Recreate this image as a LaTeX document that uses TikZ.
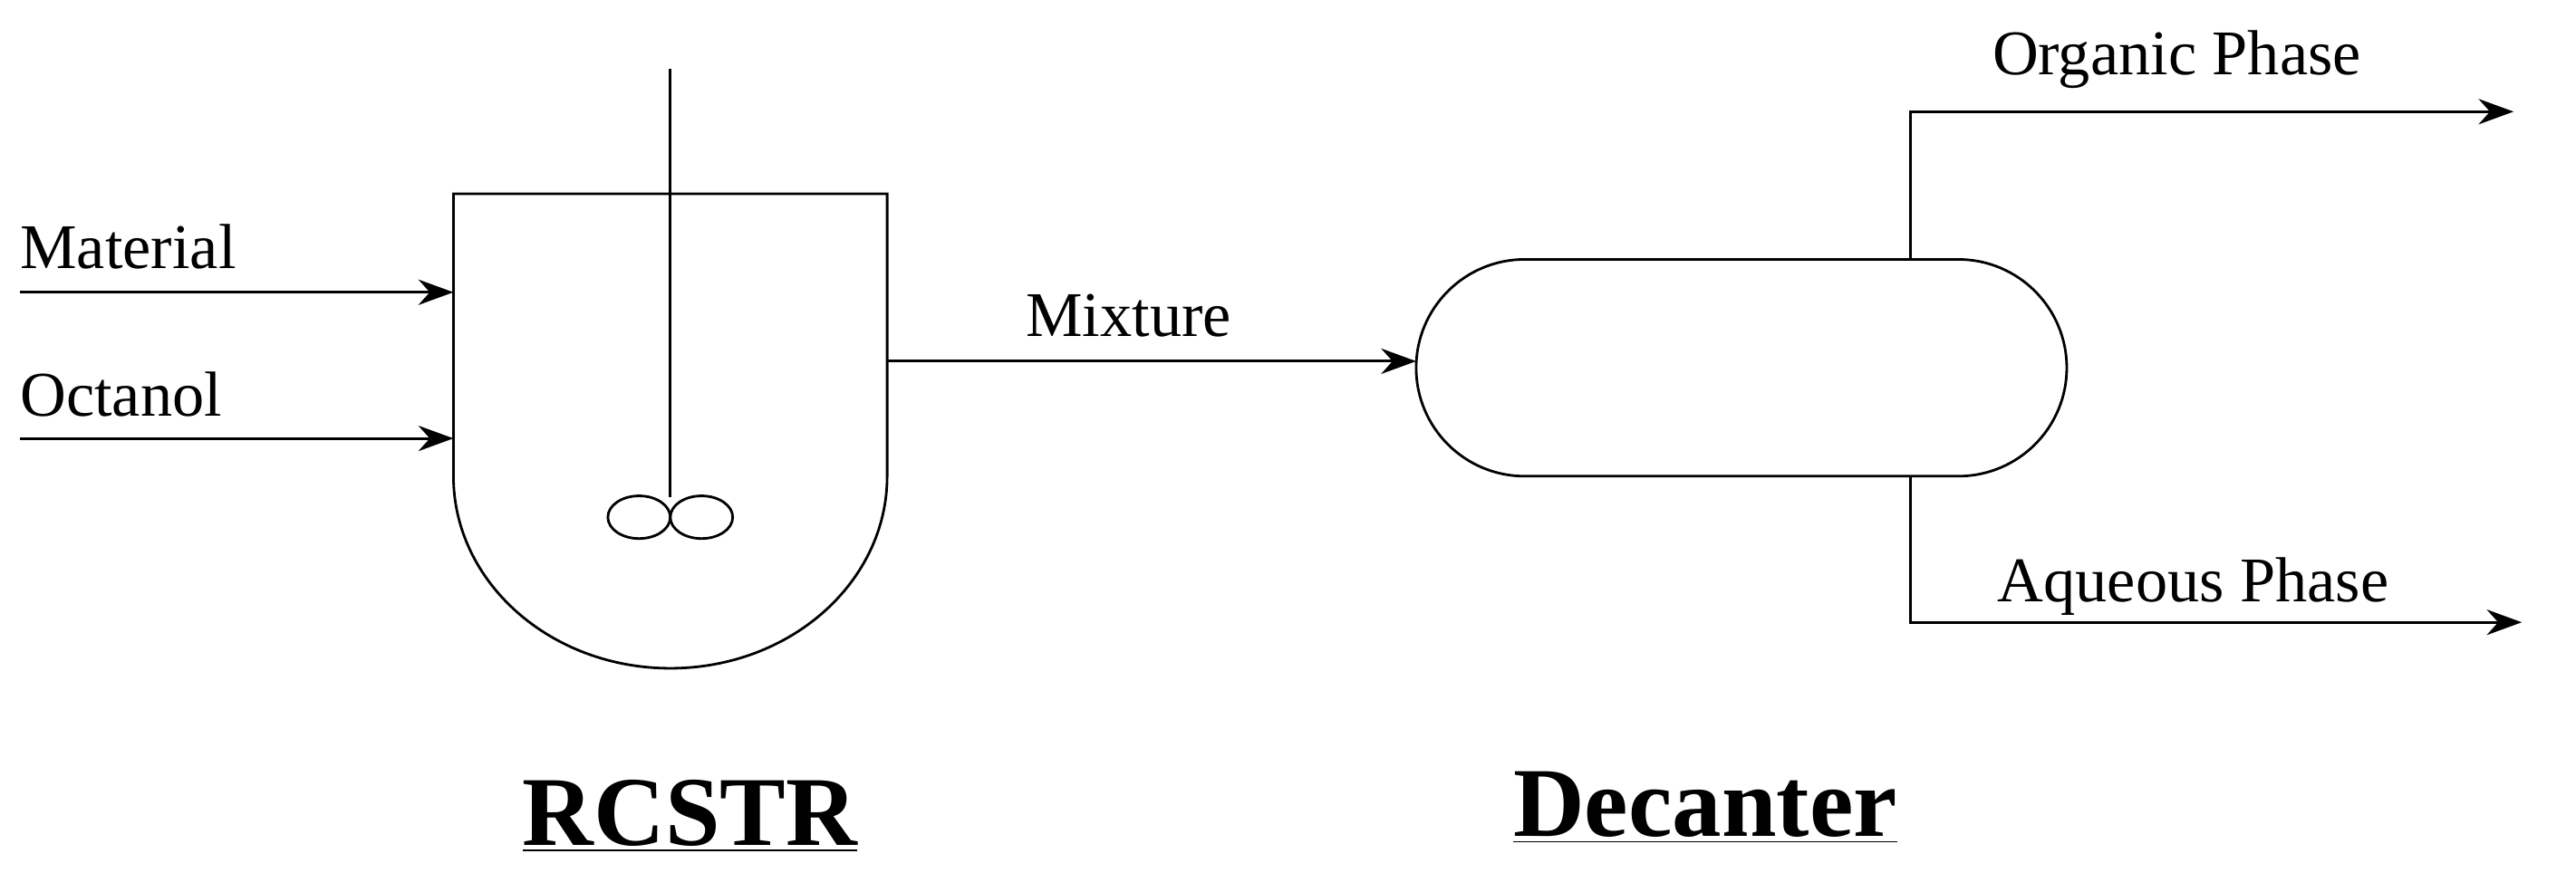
\documentclass[tikz,border=0pt]{standalone}
\usepackage{fontspec}
\setmainfont{Liberation Serif}
\usetikzlibrary{arrows.meta}
\begin{document}
\begin{tikzpicture}[x=0.01813cm,y=-0.01813cm,
  ln/.style={line width=0.8pt},
  arr/.style={ln,-{Stealth[length=11pt,width=8pt]}},
  lbl/.style={font=\fontsize{20}{24}\selectfont,inner sep=0pt},
  ttl/.style={font=\fontsize{31}{36}\selectfont\bfseries,inner sep=0pt}]
\useasboundingbox (0,0) rectangle (1568,543);
% reactor
\draw[ln] (276,118) -- (276,290) arc[start angle=180,end angle=0,x radius=132,y radius=117] -- (540,118) -- cycle;
\draw[ln] (408,42) -- (408,303);
\draw[ln] (389,315) ellipse[x radius=19,y radius=13];
\draw[ln] (427,315) ellipse[x radius=19,y radius=13];
\coordinate (rin1) at (276,178);
\coordinate (rin2) at (276,267);
\coordinate (rout) at (540,220);
\coordinate (m0) at (12,178);
\coordinate (o0) at (12,267);
\draw[arr] (m0) -- (rin1);
\draw[arr] (o0) -- (rin2);
\node[lbl,anchor=west] (mat) at (12,150) {Material};
\node[lbl,anchor=west] (oct) at (12,240) {Octanol};
% decanter
\draw[ln] (928,158) -- (1192,158) arc[start angle=-90,end angle=90,radius=66] -- (928,290) arc[start angle=90,end angle=270,radius=66] -- cycle;
\coordinate (din) at (862,220);
\draw[arr] (rout) -- (din);
\node[lbl] (mix) at (687,192) {Mixture};
\coordinate (dtop) at (1163,158);
\coordinate (dbot) at (1163,290);
\coordinate (oend) at (1530,68);
\coordinate (aend) at (1535,379);
\draw[arr] (dtop) -- (1163,68) -- (oend);
\draw[arr] (dbot) -- (1163,379) -- (aend);
\node[lbl] (org) at (1325,36) {Organic Phase};
\node[lbl] (aq) at (1335,357) {Aqueous Phase};
\node[ttl] (r) at (420,497) {\underline{RCSTR}};
\node[ttl] (d) at (1038,492) {\underline{Decanter}};
\end{tikzpicture}
\end{document}
